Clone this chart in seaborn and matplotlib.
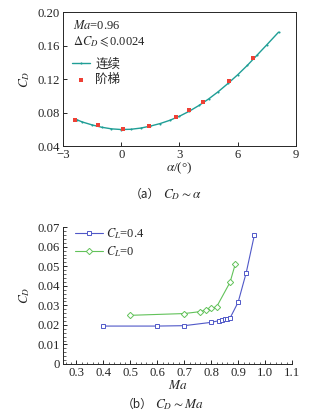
import matplotlib
matplotlib.use("Agg")
import matplotlib.pyplot as plt
import seaborn as sns
import pandas as pd
from matplotlib.ticker import MultipleLocator

sns.set_theme(style="ticks")
plt.rcParams['font.family'] = ['Liberation Serif', 'Noto Sans CJK SC', 'DejaVu Sans']
plt.rcParams['mathtext.fontset'] = 'stix'
plt.rcParams['xtick.direction'] = 'in'
plt.rcParams['ytick.direction'] = 'in'

# ---- data (a) ----
alpha_curve = [-2.3, -2.0, -1.5, -1.0, -0.5, 0.0, 0.5, 1.0, 1.5, 2.0, 2.5, 3.0,
               3.5, 4.0, 4.5, 5.0, 5.5, 6.0, 6.5, 7.0, 7.5, 8.1]
cd_curve = [0.0715, 0.0687, 0.0652, 0.0624, 0.0605, 0.0597, 0.0600, 0.0614, 0.0638,
            0.0668, 0.0707, 0.0756, 0.0815, 0.0884, 0.0962, 0.1050, 0.1148, 0.1252,
            0.1365, 0.1487, 0.1610, 0.1760]
alpha_step = [-2.4, -1.2, 0.1, 1.45, 2.8, 3.5, 4.2, 5.55, 6.8]
cd_step = [0.0716, 0.0650, 0.0598, 0.0642, 0.0742, 0.0828, 0.0928, 0.1180, 0.1448]

# ---- data (b) ----
ma_04 = [0.40, 0.60, 0.70, 0.80, 0.83, 0.84, 0.85, 0.86, 0.87, 0.90, 0.93, 0.96]
cd_04 = [0.0194, 0.0194, 0.0196, 0.0213, 0.0222, 0.0223, 0.0228, 0.0232, 0.0235,
         0.0316, 0.0467, 0.0658]
ma_0 = [0.50, 0.70, 0.76, 0.78, 0.80, 0.82, 0.87, 0.89]
cd_0 = [0.0249, 0.0258, 0.0268, 0.0277, 0.0284, 0.0292, 0.0418, 0.0514]

teal = '#1f9e96'
red = '#ee4035'
blue = '#5058c8'
green = '#62c25a'

fig = plt.figure(figsize=(3.33, 4.16), dpi=100)
ax1 = fig.add_axes([0.189, 0.649, 0.700, 0.322])
ax2 = fig.add_axes([0.189, 0.125, 0.688, 0.329])

TICK_FS = 9.2

# (a)
sns.lineplot(x=alpha_curve, y=cd_curve, ax=ax1, color=teal, lw=1.0, marker='o',
             markersize=1.5, markeredgewidth=0, label='连续')
sns.scatterplot(x=alpha_step, y=cd_step, ax=ax1, color=red, marker='s', s=7,
                linewidth=0, label='阶梯', zorder=3)
ax1.set_xlim(-3, 9)
ax1.set_ylim(0.04, 0.20)
ax1.set_xticks([-3, 0, 3, 6, 9])
ax1.set_yticks([0.04, 0.08, 0.12, 0.16, 0.20])
ax1.set_yticklabels(['0.04', '0.08', '0.12', '0.16', '0.20'])
ax1.tick_params(labelsize=TICK_FS, length=3, width=0.7, pad=2)
for s in ax1.spines.values():
    s.set_linewidth(0.7)
ax1.set_xlabel(r'$\alpha$/(°)', fontsize=9.5, labelpad=0)
ax1.set_ylabel(r'$C_D$', fontsize=9.5, labelpad=4)
ax1.text(0.045, 0.90, r'$Ma$=0.96', transform=ax1.transAxes, fontsize=9, va='center')
ax1.text(0.045, 0.78, r'$\Delta C_D\leqslant$0.0024', transform=ax1.transAxes,
         fontsize=9, va='center')
ax1.legend(loc='upper left', bbox_to_anchor=(0.0, 0.72), frameon=False,
           fontsize=9, handlelength=1.5, handletextpad=0.4,
           labelspacing=0.3, borderaxespad=0.3)

# (b)
sns.lineplot(x=ma_04, y=cd_04, ax=ax2, color=blue, lw=0.8, marker='s', markersize=3.3,
             markerfacecolor='white', markeredgecolor=blue, markeredgewidth=0.7,
             label=r'$C_L$=0.4')
sns.lineplot(x=ma_0, y=cd_0, ax=ax2, color=green, lw=0.8, marker='D', markersize=3.2,
             markerfacecolor='white', markeredgecolor=green, markeredgewidth=0.7,
             label=r'$C_L$=0')
ax2.set_xlim(0.25, 1.1)
ax2.set_ylim(0, 0.07)
ax2.set_xticks([0.3, 0.4, 0.5, 0.6, 0.7, 0.8, 0.9, 1.0, 1.1])
ax2.set_xticklabels(['0.3', '0.4', '0.5', '0.6', '0.7', '0.8', '0.9', '1.0', '1.1'])
ax2.set_yticks([0, 0.01, 0.02, 0.03, 0.04, 0.05, 0.06, 0.07])
ax2.set_yticklabels(['0', '0.01', '0.02', '0.03', '0.04', '0.05', '0.06', '0.07'])
ax2.xaxis.set_minor_locator(MultipleLocator(0.02))
ax2.yaxis.set_minor_locator(MultipleLocator(0.002))
ax2.tick_params(which='major', labelsize=TICK_FS, length=3, width=0.7, pad=2)
ax2.tick_params(which='minor', length=1.8, width=0.5)
for side in ['top', 'right']:
    ax2.spines[side].set_visible(False)
for side in ['left', 'bottom']:
    ax2.spines[side].set_linewidth(0.7)
ax2.set_xlabel(r'$Ma$', fontsize=9.5, labelpad=0)
ax2.set_ylabel(r'$C_D$', fontsize=9.5, labelpad=4)
ax2.legend(loc='upper left', bbox_to_anchor=(0.02, 1.06), frameon=False, fontsize=9,
           handlelength=2.2, handletextpad=0.3, labelspacing=0.25, borderaxespad=0.2)

cap_x = 0.48
fig.text(cap_x, 1 - 198/416, '（a）', ha='right', va='baseline', fontsize=8.5,
         family=['Noto Sans CJK SC', 'DejaVu Sans'])
fig.text(cap_x + 0.008, 1 - 198/416, r'$C_D\sim\alpha$', ha='left', va='baseline',
         fontsize=9.5)
cap_x2 = 0.458
fig.text(cap_x2, 1 - 408/416, '（b）', ha='right', va='baseline', fontsize=8.5,
         family=['Noto Sans CJK SC', 'DejaVu Sans'])
fig.text(cap_x2 + 0.008, 1 - 408/416, r'$C_D\sim Ma$', ha='left', va='baseline',
         fontsize=9.5)

fig.savefig('out.png', dpi=100)
